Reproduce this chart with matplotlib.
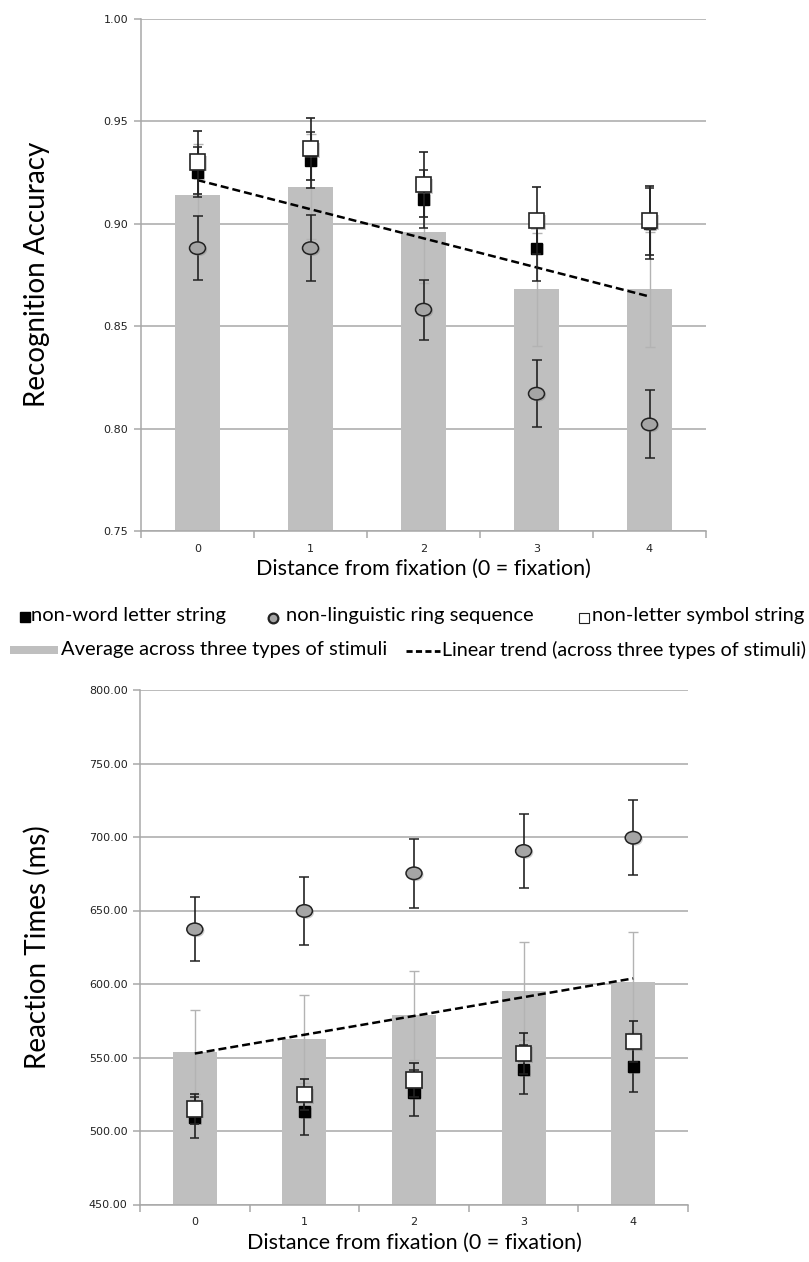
import numpy as np
import matplotlib
matplotlib.use('Agg')
import matplotlib.pyplot as plt
from matplotlib.markers import MarkerStyle
from matplotlib.transforms import Affine2D
from matplotlib.lines import Line2D
from matplotlib.patches import Rectangle
import matplotlib.patheffects as pe

plt.rcParams['font.family'] = ['Lato', 'DejaVu Sans']

distance = [0, 1, 2, 3, 4]

# recognition accuracy (mean, SE)
acc_letter = [0.925, 0.931, 0.912, 0.888, 0.900]
acc_letter_se = [0.0122, 0.0136, 0.0141, 0.016, 0.0175]
acc_ring = [0.888, 0.888, 0.858, 0.817, 0.802]
acc_ring_se = [0.0155, 0.0162, 0.0146, 0.0162, 0.0166]
acc_symbol = [0.930, 0.9365, 0.919, 0.9015, 0.9015]
acc_symbol_se = [0.0154, 0.0152, 0.0158, 0.0163, 0.0168]
acc_avg = [0.914, 0.918, 0.896, 0.868, 0.868]
acc_avg_se = [0.025, 0.0255, 0.025, 0.0275, 0.028]

# reaction times in ms (mean, SE)
rt_letter = [509.3, 513.2, 525.9, 541.7, 543.8]
rt_letter_se = [14.0, 15.7, 15.5, 16.5, 17.3]
rt_ring = [637.2, 649.7, 675.3, 690.5, 699.5]
rt_ring_se = [21.8, 23.0, 23.5, 25.0, 25.5]
rt_symbol = [515.0, 524.7, 534.7, 552.8, 561.0]
rt_symbol_se = [10.2, 10.7, 11.3, 13.9, 13.8]
rt_avg = [553.8, 562.5, 578.6, 595.0, 601.4]
rt_avg_se = [28.8, 29.7, 30.3, 33.3, 34.0]

BAR = '#bfbfbf'
GRID = '#a8a8a8'
RING = '#a5a5a5'
ellipse = MarkerStyle('o', transform=Affine2D().scale(1.0, 0.78))
shadow = [pe.SimplePatchShadow(offset=(1.2, -1.2), shadow_rgbFace='#777777', alpha=0.35), pe.Normal()]

fig = plt.figure(figsize=(8.09, 12.62), dpi=100)
W, H = 809.0, 1262.0


def panel(box, avg, avg_se, letter, letter_se, ring, ring_se, symbol, symbol_se,
          ylim, yticks, fmt, ylabel):
    left, right, top, bottom = box
    ax = fig.add_axes([left / W, 1 - bottom / H, (right - left) / W, (bottom - top) / H])
    x = np.array(distance)
    ax.bar(x, avg, width=0.4, color=BAR, zorder=2)
    ax.errorbar(x, avg, yerr=avg_se, fmt='none', ecolor='#b3b3b3', elinewidth=1.0,
                capsize=3.3, capthick=1.0, zorder=3)
    # linear trend through the averages
    k, b = np.polyfit(x, avg, 1)
    ax.plot([x[0], x[-1]], [b, b + k * x[-1]], color='black', lw=1.8,
            dashes=(3.2, 1.6), zorder=4)
    ax.errorbar(x, letter, yerr=letter_se, fmt='s', ms=8, mfc='black', mec='black',
                ecolor='#222222', elinewidth=1.2, capsize=3.3, capthick=1.1, zorder=5,
                path_effects=shadow)
    ax.errorbar(x, ring, yerr=ring_se, fmt='none', ecolor='#222222', elinewidth=1.2,
                capsize=3.3, capthick=1.1, zorder=5)
    ax.plot(x, ring, ls='none', marker=ellipse, ms=11.5, mfc=RING, mec='#222222',
            mew=1.1, zorder=6, path_effects=shadow)
    ax.errorbar(x, symbol, yerr=symbol_se, fmt='s', ms=11, mfc='white', mec='#222222',
                mew=1.2, ecolor='#222222', elinewidth=1.2, capsize=3.3, capthick=1.1,
                zorder=7, path_effects=shadow)

    ax.set_xlim(-0.5, 4.5)
    ax.set_ylim(*ylim)
    ax.set_yticks(yticks)
    ax.set_yticklabels([fmt.format(t) for t in yticks], family='DejaVu Sans',
                       fontsize=8, color='#222222')
    ax.yaxis.grid(True, color=GRID, lw=1.1)
    ax.set_axisbelow(True)
    ax.set_xticks(x)
    ax.set_xticklabels([str(d) for d in distance], family='DejaVu Sans', fontsize=8,
                       color='#222222')
    ax.set_xticks(np.arange(-0.5, 5.0, 1.0), minor=True)
    ax.tick_params(axis='x', which='major', length=0, pad=9)
    ax.tick_params(axis='x', which='minor', length=5, color=GRID, width=1.1)
    ax.tick_params(axis='y', length=5, color=GRID, width=1.1, pad=4)
    for s in ['top', 'right']:
        ax.spines[s].set_visible(False)
    for s in ['left', 'bottom']:
        ax.spines[s].set_color(GRID)
        ax.spines[s].set_linewidth(1.1)
    ax.set_xlabel('Distance from fixation (0 = fixation)', fontsize=15.5, labelpad=4)
    fig.text(37 / W, 1 - (top + bottom) / 2 / H, ylabel, rotation=90,
             ha='center', va='center', fontsize=20)
    return ax


panel((141, 706, 18.6, 531), acc_avg, acc_avg_se, acc_letter, acc_letter_se,
      acc_ring, acc_ring_se, acc_symbol, acc_symbol_se,
      (0.75, 1.0), [0.75, 0.80, 0.85, 0.90, 0.95, 1.00], '{:.2f}', 'Recognition Accuracy')
panel((140, 688, 690, 1204.5), rt_avg, rt_avg_se, rt_letter, rt_letter_se,
      rt_ring, rt_ring_se, rt_symbol, rt_symbol_se,
      (450, 800), [450, 500, 550, 600, 650, 700, 750, 800], '{:.2f}', 'Reaction Times (ms)')


# legend between the two panels, placed in pixel coordinates
def fx(px):
    return px / W


def fy(py):
    return 1 - py / H


LFS = 14.5
row1, row2 = 616, 650
fig.add_artist(Line2D([fx(25)], [fy(row1 + 1)], ls='none', marker='s', ms=6.5,
                      mfc='black', mec='black'))
fig.text(fx(31), fy(row1), 'non-word letter string', fontsize=LFS, va='center')
fig.add_artist(Line2D([fx(273)], [fy(row1 + 2)], ls='none', marker='o', ms=7, mfc=RING,
                      mec='#222222', mew=1.6))
fig.text(fx(286), fy(row1), 'non-linguistic ring sequence', fontsize=LFS, va='center')
fig.add_artist(Line2D([fx(584)], [fy(row1 + 2)], ls='none', marker='s', ms=7, mfc='white',
                      mec='#222222', mew=0.8))
fig.text(fx(592), fy(row1), 'non-letter symbol string', fontsize=LFS, va='center')

fig.add_artist(Rectangle((fx(10), fy(row2 + 4)), fx(48), 8 / H, color=BAR, lw=0))
fig.text(fx(61), fy(row2), 'Average across three types of stimuli', fontsize=LFS, va='center')
fig.add_artist(Line2D([fx(406), fx(440)], [fy(row2 + 1), fy(row2 + 1)], color='black',
                      lw=2.0, dashes=(2.2, 1.2)))
fig.text(fx(442), fy(row2), 'Linear trend (across three types of stimuli)', fontsize=14.2,
         va='center')

fig.savefig('out.png', dpi=100)
